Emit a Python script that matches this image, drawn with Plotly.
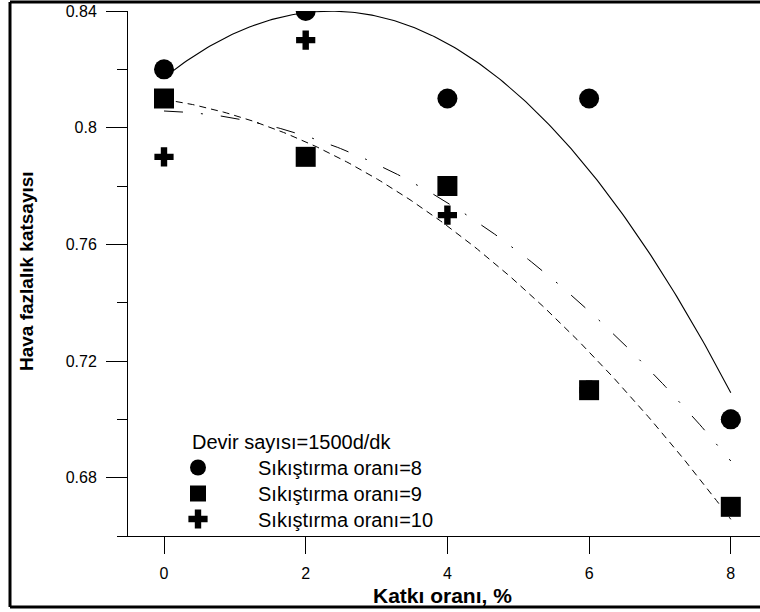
import numpy as np
import plotly.graph_objects as go

# Katkı oranı (%) and measured air-excess coefficients for each compression ratio
katki = [0, 2, 4, 6, 8]
oran_8 = [0.82, 0.84, 0.81, 0.81, 0.70]
oran_9 = [0.81, 0.79, 0.78, 0.71, 0.67]
oran_10 = [0.79, 0.83, 0.77, 0.71, 0.70]

y_tickvals = [0.68, 0.72, 0.76, 0.80, 0.84]
y_ticktext = ["0.68", "0.72", "0.76", "0.8", "0.84"]
y_minorvals = [0.66, 0.70, 0.74, 0.78, 0.82]
x_tickvals = [0, 2, 4, 6, 8]

FONT = "Liberation Sans, Arial, sans-serif"

W, H = 760, 612
ML, MR, MT, MB = 128, 0, 11, 76
PW, PH = W - ML - MR, H - MT - MB


def px(x):
    return (x - ML) / PW


def py(y):
    return (H - MB - y) / PH


# second-order trend lines through each series
xs = np.linspace(0, 8, 200)


def trend(vals):
    c = np.polyfit(katki, vals, 2)
    return np.polyval(c, xs)


fig = go.Figure()

fig.add_trace(go.Scatter(x=xs, y=trend(oran_8), mode="lines", showlegend=False,
                         line=dict(color="black", width=1.1), hoverinfo="skip"))
fig.add_trace(go.Scatter(x=xs, y=trend(oran_9), mode="lines", showlegend=False,
                         line=dict(color="black", width=1, dash="7px,5px"), hoverinfo="skip"))
fig.add_trace(go.Scatter(x=xs, y=trend(oran_10), mode="lines", showlegend=False,
                         line=dict(color="black", width=1, dash="19px,18px,2px,18px"), hoverinfo="skip"))

# crosses first so the circles and squares sit on top of them
fig.add_trace(go.Scatter(x=katki, y=oran_10, mode="markers", name="Sıkıştırma oranı=10",
                         legend="legend3",
                         marker=dict(symbol="cross", size=16, color="black", line=dict(width=0))))
fig.add_trace(go.Scatter(x=katki, y=oran_9, mode="markers", name="Sıkıştırma oranı=9",
                         legend="legend2",
                         marker=dict(symbol="square", size=20, color="black", line=dict(width=0))))
fig.add_trace(go.Scatter(x=katki, y=oran_8, mode="markers", name="Sıkıştırma oranı=8",
                         legend="legend",
                         marker=dict(symbol="circle", size=20, color="black", line=dict(width=0))))

x0 = 0 - (164 - ML) / 70.85
x1 = x0 + PW / 70.85

border = [
    dict(x0=px(10), x1=px(10), y0=py(2), y1=py(607)),
    dict(x0=px(10), x1=px(762), y0=py(2), y1=py(2)),
    dict(x0=px(10), x1=px(762), y0=py(607), y1=py(607)),
]
shapes = [dict(type="line", xref="paper", yref="paper", line=dict(color="black", width=3), **b)
          for b in border]


def legend_box(top):
    return dict(x=px(138), y=py(top), xanchor="left", yanchor="top",
                bgcolor="rgba(0,0,0,0)", borderwidth=0,
                font=dict(family=FONT, size=20, color="black"),
                itemwidth=110, itemsizing="trace")


fig.update_layout(
    width=W, height=H,
    margin=dict(l=ML, r=MR, t=MT, b=MB, pad=0),
    paper_bgcolor="white", plot_bgcolor="white",
    font=dict(family=FONT, color="black", size=16),
    showlegend=True,
    legend=legend_box(448),
    legend2=legend_box(474),
    legend3=legend_box(499.5),
    shapes=shapes,
    annotations=[
        dict(text="Devir sayısı=1500d/dk", xref="paper", yref="paper",
             x=px(190), y=py(442), xanchor="left", yanchor="middle", showarrow=False,
             font=dict(family=FONT, size=20, color="black")),
        dict(text="<b>Katkı oranı, %</b>", xref="paper", yref="paper",
             x=px(442), y=py(595), xanchor="center", yanchor="middle", showarrow=False,
             font=dict(family=FONT, size=21, color="black")),
        dict(text="<b>Hava fazlalık katsayısı</b>", xref="paper", yref="paper",
             x=px(26), y=py(271), xanchor="center", yanchor="middle", showarrow=False,
             textangle=-90, font=dict(family=FONT, size=19, color="black")),
    ],
    xaxis=dict(range=[x0, x1], showgrid=False, zeroline=False, showline=True,
               linecolor="black", linewidth=1, ticks="outside", ticklen=17,
               tickwidth=1, tickcolor="black", tickvals=x_tickvals,
               tickfont=dict(family=FONT, size=16), ticklabelstandoff=6),
    yaxis=dict(range=[0.66, 0.84], showgrid=False, zeroline=False, showline=True,
               linecolor="black", linewidth=1, ticks="outside", ticklen=21,
               tickwidth=1, tickcolor="black", tickvals=y_tickvals, ticktext=y_ticktext,
               tickfont=dict(family=FONT, size=16), ticklabelstandoff=6,
               minor=dict(tickvals=y_minorvals, ticklen=10, tickwidth=1,
                          tickcolor="black", ticks="outside")),
)

fig.write_html("out.html")
